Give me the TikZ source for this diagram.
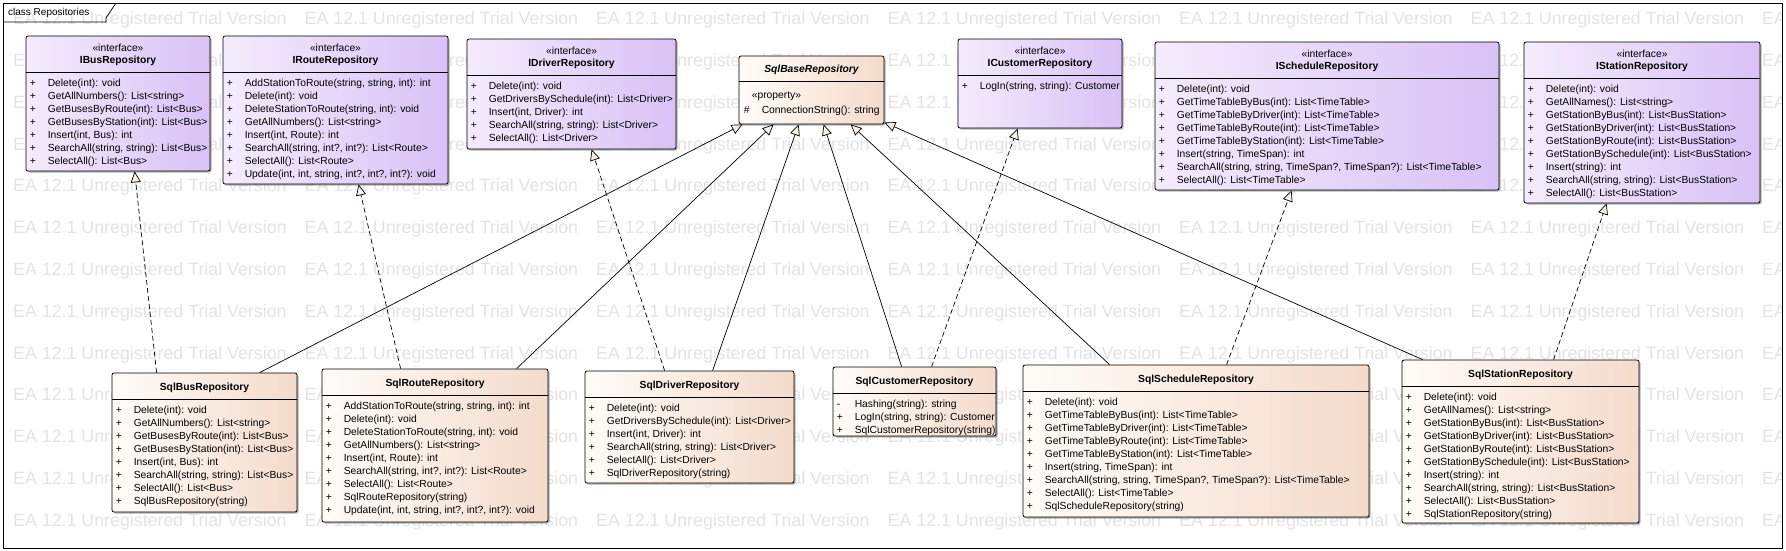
\documentclass[tikz,border=0pt]{standalone}
\usepackage{fontspec}
\setmainfont{Liberation Sans}
\usepackage{tikz}
\usetikzlibrary{arrows.meta, fit, calc, shadows}

\definecolor{ifaceL}{RGB}{244,236,252}
\definecolor{ifaceR}{RGB}{217,193,246}
\definecolor{classL}{RGB}{255,252,248}
\definecolor{classR}{RGB}{244,219,203}
\definecolor{tipfill}{RGB}{250,240,229}
\definecolor{wmgray}{RGB}{227,227,227}

\tikzset{
  umlbox/.style={draw, line width=0.8pt, rounded corners=2pt, inner sep=0pt,
    drop shadow={shadow xshift=1.5pt, shadow yshift=-1.5pt, fill=black!60, opacity=0.5}},
  iface/.style={umlbox, left color=ifaceL, right color=ifaceR},
  sqlclass/.style={umlbox, left color=classL, right color=classR},
  stereo/.style={inner sep=0pt, font=\fontsize{10.3}{12}\selectfont},
  clsname/.style={inner sep=0pt, font=\fontsize{10.3}{12}\selectfont\bfseries},
  member/.style={anchor=base west, inner sep=0pt, font=\fontsize{10.3}{12}\selectfont},
  sepline/.style={line width=0.8pt},
  wmark/.style={anchor=west, inner sep=0pt, text=wmgray, font=\fontsize{17.8}{20}\selectfont},
  realize/.style={line width=0.7pt, dash pattern=on 5pt off 3pt,
    -{Triangle[length=11pt, width=10pt, fill=tipfill, line width=0.7pt, sep=0pt]}},
  inherit/.style={line width=0.7pt,
    -{Triangle[length=11pt, width=10pt, fill=tipfill, line width=0.7pt, sep=0pt]}},
}

% header of an interface: stereotype, name and separator
\newcommand{\ifacehead}[2]{%
  \node[stereo] (#1-st) at ([yshift=-12pt]#1.north) {«interface»};
  \node[clsname] (#1-nm) at ([yshift=-25pt]#1.north) {#2};
  \draw[sepline] ([yshift=-37pt]#1.north west) -- ([yshift=-37pt]#1.north east);
}
% header of a class: name and separator
\newcommand{\classhead}[2]{%
  \node[clsname] (#1-nm) at ([yshift=-15pt]#1.north) {#2};
  \draw[sepline] ([yshift=-27pt]#1.north west) -- ([yshift=-27pt]#1.north east);
}
% public members, one row each
\newcommand{\memberrows}[4][1]{%
  \foreach \m [count=\i from #1] in {#4}
    \node[member] (#2-\i) at ($(#2.north west)+(4,{#3+13*(\i-1)})$)
      {\makebox[18pt][l]{+}\m};
}

\begin{document}
\begin{tikzpicture}[x=1pt, y=-1pt]
  \useasboundingbox (0,0) rectangle (1786,551);

  % watermark
  \begin{scope}
    \clip (3,3) rectangle (1782,548);
    \foreach \r in {0,...,12}
      \foreach \c in {0,...,6}
        \node[wmark] (wm-\r-\c) at ({13+291.5*\c},{20+41.8*\r})
          {EA 12.1 Unregistered Trial Version};
  \end{scope}

  % frame
  \draw[line width=0.8pt] (3,3) rectangle (1782,548);
  \draw[line width=0.8pt] (3,22) -- (106,22) -- (106,18) -- (116,3);
  \node[anchor=west, inner sep=0pt, font=\fontsize{10}{12}\selectfont] (frametab)
    at (8,12.5) {class Repositories};

  % interfaces
  \node[iface, fit={(26,36) (210,171)}] (ibus) {};
  \ifacehead{ibus}{IBusRepository}
  \memberrows{ibus}{51}{Delete(int): void, GetAllNumbers(): List<string>,
    GetBusesByRoute(int): List<Bus>, GetBusesByStation(int): List<Bus>,
    {Insert(int, Bus): int}, {SearchAll(string, string): List<Bus>},
    SelectAll(): List<Bus>}

  \node[iface, fit={(223,36) (448,184)}] (iroute) {};
  \ifacehead{iroute}{IRouteRepository}
  \memberrows{iroute}{51}{{AddStationToRoute(string, string, int): int},
    Delete(int): void, {DeleteStationToRoute(string, int): void},
    GetAllNumbers(): List<string>, {Insert(int, Route): int},
    {SearchAll(string, int?, int?): List<Route>}, SelectAll(): List<Route>,
    {Update(int, int, string, int?, int?, int?): void}}

  \node[iface, fit={(467,39) (676,149)}] (idriver) {};
  \ifacehead{idriver}{IDriverRepository}
  \memberrows{idriver}{51}{Delete(int): void,
    GetDriversBySchedule(int): List<Driver>, {Insert(int, Driver): int},
    {SearchAll(string, string): List<Driver>}, SelectAll(): List<Driver>}

  \node[iface, fit={(958,39) (1122,128)}] (icustomer) {};
  \ifacehead{icustomer}{ICustomerRepository}
  \memberrows{icustomer}{51}{{LogIn(string, string): Customer}}

  \node[iface, fit={(1155,42) (1499,190)}] (ischedule) {};
  \ifacehead{ischedule}{IScheduleRepository}
  \memberrows{ischedule}{51}{Delete(int): void,
    GetTimeTableByBus(int): List<TimeTable>,
    GetTimeTableByDriver(int): List<TimeTable>,
    GetTimeTableByRoute(int): List<TimeTable>,
    GetTimeTableByStation(int): List<TimeTable>,
    {Insert(string, TimeSpan): int},
    {SearchAll(string, string, TimeSpan?, TimeSpan?): List<TimeTable>},
    SelectAll(): List<TimeTable>}

  \node[iface, fit={(1524,42) (1760,203)}] (istation) {};
  \ifacehead{istation}{IStationRepository}
  \memberrows{istation}{51}{Delete(int): void, GetAllNames(): List<string>,
    GetStationByBus(int): List<BusStation>,
    GetStationByDriver(int): List<BusStation>,
    GetStationByRoute(int): List<BusStation>,
    GetStationBySchedule(int): List<BusStation>, Insert(string): int,
    {SearchAll(string, string): List<BusStation>},
    SelectAll(): List<BusStation>}

  % base class
  \node[sqlclass, fit={(739,56) (884,124)}] (sqlbase) {};
  \node[clsname, font=\fontsize{10.3}{12}\selectfont\bfseries\itshape] (sqlbase-nm)
    at ([yshift=-14pt]sqlbase.north) {SqlBaseRepository};
  \draw[sepline] ([yshift=-26pt]sqlbase.north west) -- ([yshift=-26pt]sqlbase.north east);
  \node[stereo, anchor=west] (sqlbase-st)
    at ($(sqlbase.north west)+(13,41)$) {«property»};
  \node[member] (sqlbase-1) at ($(sqlbase.north west)+(5,58)$)
    {\makebox[18pt][l]{\#}ConnectionString(): string};

  % classes
  \node[sqlclass, fit={(112,373) (297,512)}] (sqlbus) {};
  \classhead{sqlbus}{SqlBusRepository}
  \memberrows{sqlbus}{41}{Delete(int): void, GetAllNumbers(): List<string>,
    GetBusesByRoute(int): List<Bus>, GetBusesByStation(int): List<Bus>,
    {Insert(int, Bus): int}, {SearchAll(string, string): List<Bus>},
    SelectAll(): List<Bus>, SqlBusRepository(string)}

  \node[sqlclass, fit={(322,369) (548,522)}] (sqlroute) {};
  \classhead{sqlroute}{SqlRouteRepository}
  \memberrows{sqlroute}{41}{{AddStationToRoute(string, string, int): int},
    Delete(int): void, {DeleteStationToRoute(string, int): void},
    GetAllNumbers(): List<string>, {Insert(int, Route): int},
    {SearchAll(string, int?, int?): List<Route>}, SelectAll(): List<Route>,
    SqlRouteRepository(string),
    {Update(int, int, string, int?, int?, int?): void}}

  \node[sqlclass, fit={(585,371) (794,483)}] (sqldriver) {};
  \classhead{sqldriver}{SqlDriverRepository}
  \memberrows{sqldriver}{41}{Delete(int): void,
    GetDriversBySchedule(int): List<Driver>, {Insert(int, Driver): int},
    {SearchAll(string, string): List<Driver>}, SelectAll(): List<Driver>,
    SqlDriverRepository(string)}

  \node[sqlclass, fit={(833,367) (996,436)}] (sqlcustomer) {};
  \classhead{sqlcustomer}{SqlCustomerRepository}
  \node[member] (sqlcustomer-1) at ($(sqlcustomer.north west)+(4,41)$)
    {\makebox[18pt][l]{-}Hashing(string): string};
  \memberrows[2]{sqlcustomer}{41}{{LogIn(string, string): Customer},
    SqlCustomerRepository(string)}

  \node[sqlclass, fit={(1023,365) (1369,517)}] (sqlschedule) {};
  \classhead{sqlschedule}{SqlScheduleRepository}
  \memberrows{sqlschedule}{41}{Delete(int): void,
    GetTimeTableByBus(int): List<TimeTable>,
    GetTimeTableByDriver(int): List<TimeTable>,
    GetTimeTableByRoute(int): List<TimeTable>,
    GetTimeTableByStation(int): List<TimeTable>,
    {Insert(string, TimeSpan): int},
    {SearchAll(string, string, TimeSpan?, TimeSpan?): List<TimeTable>},
    SelectAll(): List<TimeTable>, SqlScheduleRepository(string)}

  \node[sqlclass, fit={(1402,360) (1639,523)}] (sqlstation) {};
  \classhead{sqlstation}{SqlStationRepository}
  \memberrows{sqlstation}{41}{Delete(int): void, GetAllNames(): List<string>,
    GetStationByBus(int): List<BusStation>,
    GetStationByDriver(int): List<BusStation>,
    GetStationByRoute(int): List<BusStation>,
    GetStationBySchedule(int): List<BusStation>, Insert(string): int,
    {SearchAll(string, string): List<BusStation>},
    SelectAll(): List<BusStation>, SqlStationRepository(string)}

  % realizations
  \draw[realize] ([xshift=45pt]sqlbus.north west) -- ([xshift=109pt]ibus.south west);
  \draw[realize] ([xshift=79pt]sqlroute.north west) -- ([xshift=136pt]iroute.south west);
  \draw[realize] ([xshift=80pt]sqldriver.north west) -- ([xshift=125pt]idriver.south west);
  \draw[realize] ([xshift=99pt]sqlcustomer.north west) -- ([xshift=60pt]icustomer.south west);
  \draw[realize] ([xshift=204pt]sqlschedule.north west) -- ([xshift=137pt]ischedule.south west);
  \draw[realize] ([xshift=152pt]sqlstation.north west) -- ([xshift=83pt]istation.south west);

  % generalizations
  \draw[inherit] ([xshift=148pt]sqlbus.north west) -- ([xshift=4pt]sqlbase.south west);
  \draw[inherit] ([xshift=195pt]sqlroute.north west) -- ([xshift=35pt]sqlbase.south west);
  \draw[inherit] ([xshift=128pt]sqldriver.north west) -- ([xshift=60pt]sqlbase.south west);
  \draw[inherit] ([xshift=69pt]sqlcustomer.north west) -- ([xshift=85pt]sqlbase.south west);
  \draw[inherit] ([xshift=87pt]sqlschedule.north west) -- ([xshift=112pt]sqlbase.south west);
  \draw[inherit] ([xshift=21pt]sqlstation.north west) -- ([yshift=2pt]sqlbase.south east);
\end{tikzpicture}
\end{document}
